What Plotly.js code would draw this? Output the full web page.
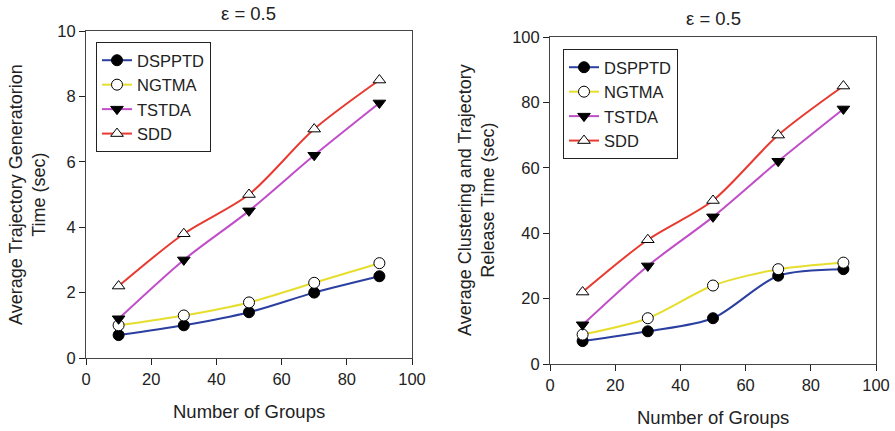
<!DOCTYPE html>
<html><head><meta charset="utf-8">
<script src="https://cdn.plot.ly/plotly-3.0.1.min.js"></script>
<style>html,body{margin:0;padding:0;background:#fff}#chart{width:895px;height:431px}</style>
</head><body><div id="chart"></div>
<script>
const groups = [10, 30, 50, 70, 90];
const seriesNames = ["DSPPTD", "NGTMA", "TSTDA", "SDD"];
// Left: Average Trajectory Generation Time (sec)
const genDSPPTD = [0.7, 1.0, 1.4, 2.0, 2.5];
const genNGTMA  = [1.0, 1.3, 1.7, 2.3, 2.9];
const genTSTDA  = [1.2, 3.0, 4.5, 6.2, 7.8];
const genSDD    = [2.2, 3.8, 5.0, 7.0, 8.5];
// Right: Average Clustering and Trajectory Release Time (sec)
const relDSPPTD = [7, 10, 14, 27, 29];
const relNGTMA  = [9, 14, 24, 29, 31];
const relTSTDA  = [12, 30, 45, 62, 78];
const relSDD    = [22, 38, 50, 70, 85];
const xTicks = [0, 20, 40, 60, 80, 100];
const yTicksLeft = [0, 2, 4, 6, 8, 10];
const yTicksRight = [0, 20, 40, 60, 80, 100];

const W = 895, H = 431;
const colors = ["#2b3fa0", "#e6de2e", "#c04ec8", "#e83a30"];
const markers = [
  {symbol: "circle", color: "#000", line: {color: "#000", width: 1}},
  {symbol: "circle", color: "#fff", line: {color: "#000", width: 1}},
  {symbol: "triangle-down", color: "#000", line: {color: "#000", width: 1}},
  {symbol: "triangle-up", color: "#fff", line: {color: "#000", width: 1}}
];
const leftData = [genDSPPTD, genNGTMA, genTSTDA, genSDD];
const rightData = [relDSPPTD, relNGTMA, relTSTDA, relSDD];
const traces = [];
leftData.forEach((ys, i) => traces.push({
  x: groups, y: ys, name: seriesNames[i], xaxis: "x", yaxis: "y", legend: "legend",
  mode: "lines+markers", line: {color: colors[i], width: 2, shape: "spline", smoothing: 0.8},
  marker: Object.assign({size: 11}, markers[i])
}));
rightData.forEach((ys, i) => traces.push({
  x: groups, y: ys, name: seriesNames[i], xaxis: "x2", yaxis: "y2", legend: "legend2",
  mode: "lines+markers", line: {color: colors[i], width: 2, shape: "spline", smoothing: 0.8},
  marker: Object.assign({size: 11}, markers[i])
}));

const FAM = "Liberation Sans, Arial, sans-serif";
const font = {family: FAM, size: 16, color: "#222"};
const axBase = {showgrid: false, zeroline: false, showline: true, linecolor: "#444", linewidth: 1,
  mirror: true, ticks: "outside", ticklen: 6, tickcolor: "#222", tickfont: {family: FAM, size: 16.5, color: "#222"}};
const legBase = {xanchor: "left", yanchor: "top", bordercolor: "#222", borderwidth: 1,
  bgcolor: "#fff", font: {family: FAM, size: 16.5, color: "#222"}, tracegroupgap: 0, itemwidth: 30};
const ann = (text, x, y, size, extra) => Object.assign({text: text, x: x / W, y: 1 - y / H,
  xref: "paper", yref: "paper", xanchor: "center", yanchor: "middle", showarrow: false,
  font: {family: FAM, size: size, color: "#222"}}, extra || {});
const layout = {
  width: W, height: H, margin: {l: 0, r: 0, t: 0, b: 0},
  paper_bgcolor: "#fff", plot_bgcolor: "#fff", font: font,
  xaxis: Object.assign({}, axBase, {domain: [86/W, 412/W], range: [0, 100], tickvals: xTicks, anchor: "y"}),
  yaxis: Object.assign({}, axBase, {domain: [1-358/H, 1-31/H], range: [0, 10], tickvals: yTicksLeft, anchor: "x"}),
  xaxis2: Object.assign({}, axBase, {domain: [550/W, 876/W], range: [0, 100], tickvals: xTicks, anchor: "y2"}),
  yaxis2: Object.assign({}, axBase, {domain: [1-364/H, 1-37/H], range: [0, 100], tickvals: yTicksRight, anchor: "x2"}),
  legend: Object.assign({}, legBase, {x: 96/W, y: 1-42/H}),
  legend2: Object.assign({}, legBase, {x: 563/W, y: 1-49/H}),
  annotations: [
    ann("ε = 0.5", 248, 13, 18.5),
    ann("ε = 0.5", 713, 19, 18.5),
    ann("Number of Groups", 249, 411, 18.5),
    ann("Number of Groups", 713, 417, 18.5),
    ann("Average Trajectory Generatorion<br>Time (sec)", 27, 195, 18, {textangle: -90}),
    ann("Average Clustering and Trajectory<br>Release Time (sec)", 476, 200, 18, {textangle: -90})
  ],
  showlegend: true
};
Plotly.newPlot("chart", traces, layout, {displayModeBar: false, staticPlot: true});
</script></body></html>
